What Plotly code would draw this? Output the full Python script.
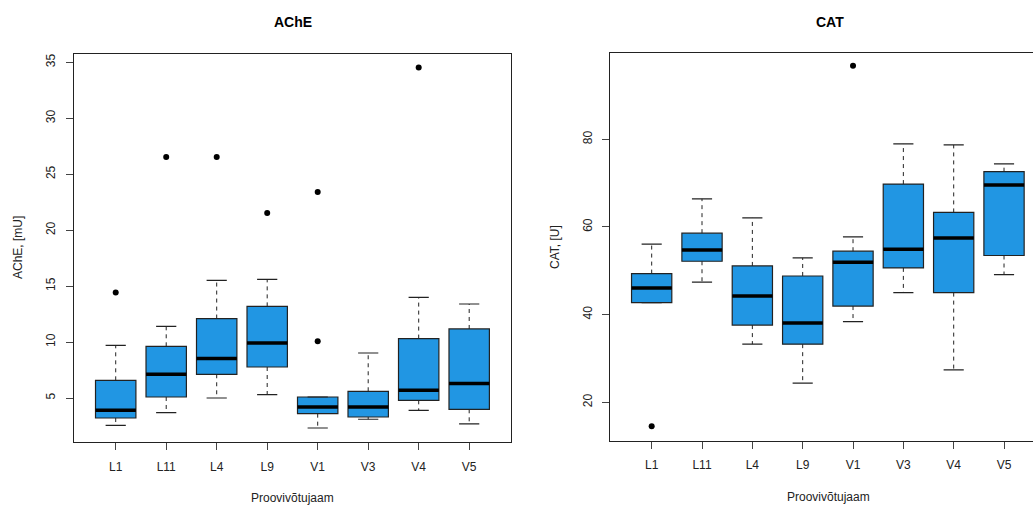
import plotly.graph_objects as go

# ---------------- data ----------------
stations = ["L1", "L11", "L4", "L9", "V1", "V3", "V4", "V5"]

ache_low  = [2.56, 3.70, 5.00, 5.30, 2.32, 3.10, 3.90, 2.68]
ache_q1   = [3.21, 5.09, 7.12, 7.77, 3.60, 3.30, 4.79, 3.99]
ache_med  = [3.90, 7.12, 8.52, 9.92, 4.20, 4.20, 5.69, 6.29]
ache_q3   = [6.58, 9.62, 12.10, 13.19, 5.09, 5.60, 10.31, 11.17]
ache_high = [9.71, 11.41, 15.52, 15.61, 5.09, 9.02, 14.00, 13.40]
ache_out_station = ["L1", "L11", "L4", "L9", "V1", "V1", "V4"]
ache_out_value   = [14.42, 26.54, 26.54, 21.53, 23.41, 10.07, 34.55]

cat_low  = [42.73, 47.40, 33.26, 24.35, 38.38, 45.02, 27.41, 49.13]
cat_q1   = [42.73, 52.17, 37.61, 33.26, 41.95, 50.65, 45.02, 53.48]
cat_med  = [46.07, 54.76, 44.24, 38.07, 51.95, 54.92, 57.50, 69.55]
cat_q3   = [49.36, 58.58, 51.10, 48.81, 54.46, 69.78, 63.31, 72.60]
cat_high = [56.06, 66.42, 62.08, 52.93, 57.73, 78.93, 78.70, 74.36]
cat_out_station = ["L1", "V1"]
cat_out_value   = [14.51, 96.77]

ache_ticks = [5, 10, 15, 20, 25, 30, 35]
cat_ticks = [20, 40, 60, 80]

# ---------------- style ----------------
W, H = 1033, 506
FILL = "#2196E3"
FONT = "Liberation Sans, Arial, sans-serif"
BOXW = 0.8
CAPW = 0.4

fig = go.Figure()


def add_panel(xa, ya, low, q1, med, q3, high, out_st, out_val):
    pos = list(range(1, len(stations) + 1))
    xref = "x" if xa == "xaxis" else "x2"
    yref = "y" if ya == "yaxis" else "y2"
    # boxes
    fig.add_trace(go.Box(
        x=pos, q1=q1, median=med, q3=q3, lowerfence=q1, upperfence=q3,
        width=BOXW, whiskerwidth=0, fillcolor=FILL,
        line=dict(color="#222222", width=1.2),
        boxpoints=False, hoverinfo="skip", showlegend=False,
        xaxis=xref, yaxis=yref))
    # dashed whiskers
    wx, wy = [], []
    for p, a, b, c, d in zip(pos, q3, high, q1, low):
        wx += [p, p, None, p, p, None]
        wy += [a, b, None, c, d, None]
    fig.add_trace(go.Scatter(x=wx, y=wy, mode="lines",
                             line=dict(color="#222222", width=1, dash="4px,4px"),
                             hoverinfo="skip", showlegend=False,
                             xaxis=xref, yaxis=yref))
    # caps
    cx, cy = [], []
    for p, b, d in zip(pos, high, low):
        cx += [p - CAPW / 2, p + CAPW / 2, None, p - CAPW / 2, p + CAPW / 2, None]
        cy += [b, b, None, d, d, None]
    fig.add_trace(go.Scatter(x=cx, y=cy, mode="lines",
                             line=dict(color="#222222", width=1.2),
                             hoverinfo="skip", showlegend=False,
                             xaxis=xref, yaxis=yref))
    # medians
    mx, my = [], []
    for p, m in zip(pos, med):
        mx += [p - BOXW / 2, p + BOXW / 2, None]
        my += [m, m, None]
    fig.add_trace(go.Scatter(x=mx, y=my, mode="lines",
                             line=dict(color="black", width=3.5),
                             hoverinfo="skip", showlegend=False,
                             xaxis=xref, yaxis=yref))
    # outliers
    ox = [stations.index(s) + 1 for s in out_st]
    fig.add_trace(go.Scatter(x=ox, y=out_val, mode="markers",
                             marker=dict(color="black", size=6, symbol="circle"),
                             hoverinfo="skip", showlegend=False,
                             xaxis=xref, yaxis=yref))


add_panel("xaxis", "yaxis", ache_low, ache_q1, ache_med, ache_q3, ache_high,
          ache_out_station, ache_out_value)
add_panel("xaxis2", "yaxis2", cat_low, cat_q1, cat_med, cat_q3, cat_high,
          cat_out_station, cat_out_value)

n = len(stations)
xr = [0.5 - 0.04 * n, n + 0.5 + 0.04 * n]
# right panel is cut by the image edge
left2, full_right2 = 610.4, 1045.3
frac = (W - left2) / (full_right2 - left2)
xr2 = [xr[0], xr[0] + (xr[1] - xr[0]) * frac]

tickfont = dict(family=FONT, size=12, color="#222222")
common_x = dict(tickmode="array", tickvals=list(range(1, n + 1)), ticktext=stations,
                ticks="outside", ticklen=7, tickcolor="#444444", tickwidth=1,
                showline=True, linecolor="#222222", linewidth=1.2,
                showgrid=False, zeroline=False, tickfont=tickfont,
                ticklabelstandoff=6)
common_y = dict(ticks="outside", ticklen=7, tickcolor="#444444", tickwidth=1,
                showline=True, linecolor="#222222", linewidth=1.2,
                showgrid=False, zeroline=False, tickfont=tickfont,
                tickangle=-90, ticklabelstandoff=6)

fig.update_layout(
    width=W, height=H,
    margin=dict(l=0, r=0, t=0, b=0),
    paper_bgcolor="white", plot_bgcolor="white",
    xaxis=dict(domain=[74.3 / W, 510.6 / W], range=xr, mirror=True, anchor="y", **common_x),
    yaxis=dict(domain=[(H - 442.3) / H, (H - 54.3) / H], range=[1.04, 35.72],
               tickvals=ache_ticks, mirror=True, anchor="x", **common_y),
    xaxis2=dict(domain=[left2 / W, 1.0], range=xr2, mirror=True, anchor="y2", **common_x),
    yaxis2=dict(domain=[(H - 440.7) / H, (H - 53.0) / H], range=[11.24, 99.67],
                tickvals=cat_ticks, mirror=False, anchor="x2", **common_y),
    showlegend=False,
)

title_font = dict(family=FONT, size=14, color="black")
label_font = dict(family=FONT, size=12, color="#222222")
annots = [
    dict(text="<b>AChE</b>", x=293 / W, y=1 - 22 / H, font=title_font),
    dict(text="<b>CAT</b>", x=830 / W, y=1 - 22 / H, font=title_font),
    dict(text="Proovivõtujaam", x=292.5 / W, y=1 - 498 / H, font=label_font),
    dict(text="Proovivõtujaam", x=828 / W, y=1 - 497 / H, font=label_font),
    dict(text="AChE, [mU]", x=18 / W, y=1 - 248 / H, font=label_font, textangle=-90),
    dict(text="CAT, [U]", x=555 / W, y=1 - 247 / H, font=label_font, textangle=-90),
]
for a in annots:
    fig.add_annotation(xref="paper", yref="paper", showarrow=False,
                       xanchor="center", yanchor="middle", **a)

fig.write_html("out.html",
               config={"displayModeBar": False},
               post_script="document.body.style.margin='0';"
                           "document.body.style.overflow='hidden';")
